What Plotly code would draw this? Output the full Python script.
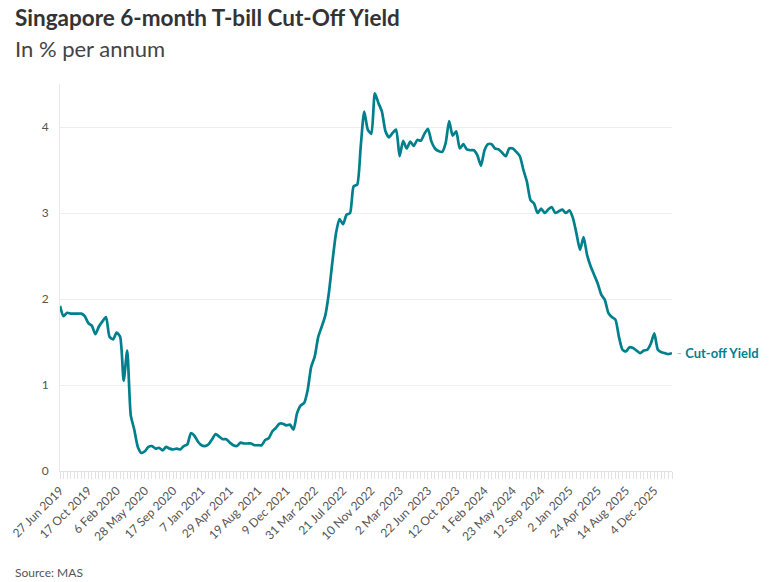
import pandas as pd
import plotly.graph_objects as go

# Biweekly 6-month T-bill auction dates (Thursdays)
first_auction = "2019-06-27"
n_auctions = 174
auction_dates = pd.date_range(first_auction, periods=n_auctions, freq="14D")

# Cut-off yield, % per annum
yield_2019_20 = [1.92, 1.80, 1.84, 1.83, 1.83, 1.83, 1.83, 1.80, 1.72, 1.69,
                 1.59, 1.68, 1.74, 1.79, 1.56, 1.53, 1.61, 1.56, 1.05, 1.40,
                 0.65, 0.48, 0.28, 0.21, 0.23, 0.28, 0.29, 0.26, 0.27, 0.24,
                 0.28, 0.26, 0.25, 0.26, 0.25, 0.29, 0.31, 0.44, 0.41, 0.34]
yield_2021_22 = [0.30, 0.29, 0.31, 0.37, 0.43, 0.40, 0.37, 0.37, 0.33, 0.30,
                 0.29, 0.33, 0.32, 0.32, 0.32, 0.30, 0.30, 0.30, 0.36, 0.38,
                 0.46, 0.50, 0.55, 0.55, 0.53, 0.54, 0.48, 0.67, 0.76, 0.79,
                 0.94, 1.21, 1.33, 1.56, 1.68, 1.81, 2.07, 2.43, 2.76, 2.93,
                 2.87, 2.98, 3.00, 3.31, 3.33, 3.77, 4.18, 3.97, 3.92, 4.39]
yield_2023_24 = [4.28, 4.18, 3.95, 3.88, 3.93, 3.97, 3.66, 3.84, 3.75, 3.83,
                 3.78, 3.85, 3.84, 3.92, 3.98, 3.83, 3.75, 3.72, 3.71, 3.81,
                 4.07, 3.90, 3.95, 3.75, 3.80, 3.74, 3.73, 3.73, 3.67, 3.55,
                 3.73, 3.80, 3.80, 3.75, 3.74, 3.70, 3.66, 3.75, 3.75, 3.71,
                 3.66, 3.50, 3.36, 3.15, 3.11, 3.00, 3.05, 3.00, 3.04, 3.07]
yield_2025_26 = [3.00, 3.02, 3.04, 3.00, 3.03, 2.94, 2.76, 2.57, 2.72, 2.51,
                 2.38, 2.28, 2.18, 2.05, 1.99, 1.84, 1.79, 1.76, 1.56, 1.41,
                 1.39, 1.44, 1.43, 1.40, 1.37, 1.40, 1.41, 1.48, 1.60, 1.41,
                 1.38, 1.37, 1.36, 1.37]
cutoff_yield = yield_2019_20 + yield_2021_22 + yield_2023_24 + yield_2025_26

x_tick_labels = ["27 Jun 2019", "17 Oct 2019", "6 Feb 2020", "28 May 2020",
                 "17 Sep 2020", "7 Jan 2021", "29 Apr 2021", "19 Aug 2021",
                 "9 Dec 2021", "31 Mar 2022", "21 Jul 2022", "10 Nov 2022",
                 "2 Mar 2023", "22 Jun 2023", "12 Oct 2023", "1 Feb 2024",
                 "23 May 2024", "12 Sep 2024", "2 Jan 2025", "24 Apr 2025",
                 "14 Aug 2025", "4 Dec 2025"]
x_tick_dates = [pd.to_datetime(s, format="%d %b %Y") for s in x_tick_labels]
y_ticks = [0, 1, 2, 3, 4]
series_name = "Cut-off Yield"

TEAL = "#007F8C"
FONT = "Lato"

# The page body adds an 8px offset; figure is sized so it fills the window.
OFF = 8
W, H = 772 - OFF, 582 - OFF
L, R, T, B = 60 - OFF, 100, 84 - OFF, 111
plot_h = H - T - B
plot_w = W - L - R


def py(screen_pix):
    return (H - B - (screen_pix - OFF)) / plot_h


def px(screen_pix):
    return ((screen_pix - OFF) - L) / plot_w


fig = go.Figure()
fig.add_trace(go.Scatter(
    x=auction_dates, y=cutoff_yield, mode="lines", name=series_name,
    line=dict(color=TEAL, width=2.7, shape="spline", smoothing=0.6),
    hoverinfo="x+y",
))

fig.add_annotation(
    x=1, xref="paper", y=cutoff_yield[-1], yref="y",
    xanchor="left", yanchor="middle", xshift=3, showarrow=False,
    text="<span style='color:#bbbbbb'>-</span> <b>" + series_name + "</b>",
    font=dict(family=FONT, size=13, color=TEAL),
)

fig.add_annotation(
    text="<b>Singapore 6-month T-bill Cut-Off Yield</b>",
    xref="paper", yref="paper", x=px(13), y=py(18),
    xanchor="left", yanchor="middle", showarrow=False,
    font=dict(family=FONT, size=22.5, color="#333333"),
)
fig.add_annotation(
    text="In % per annum",
    xref="paper", yref="paper", x=px(13), y=py(48),
    xanchor="left", yanchor="middle", showarrow=False,
    font=dict(family=FONT, size=22, color="#444444"),
)
fig.add_annotation(
    text="Source: MAS", xref="paper", yref="paper", x=px(13), y=py(572),
    xanchor="left", yanchor="middle", showarrow=False,
    font=dict(family=FONT, size=12, color="#555555"),
)

fig.update_layout(
    width=W, height=H,
    margin=dict(l=L, r=R, t=T, b=B, autoexpand=False),
    paper_bgcolor="white", plot_bgcolor="white",
    showlegend=False,
    font=dict(family=FONT, size=12, color="#555555"),
)

fig.update_xaxes(
    type="date", automargin=False,
    range=[auction_dates[0], auction_dates[-1]],
    tickmode="array", tickvals=x_tick_dates, ticktext=x_tick_labels,
    tickangle=-45,
    ticks="outside", ticklen=7, tickcolor="#e2e2e2", tickwidth=1,
    minor=dict(tickmode="array", tickvals=list(auction_dates), ticks="outside",
               ticklen=7, tickcolor="#e2e2e2", tickwidth=1, showgrid=False),
    showgrid=False, showline=True, linecolor="#e2e2e2", linewidth=1,
    tickfont=dict(family=FONT, size=12, color="#555555"),
)
fig.update_yaxes(
    range=[0, 4.5], tickvals=y_ticks, automargin=False,
    showgrid=True, gridcolor="#eeeeee", gridwidth=1,
    showline=True, linecolor="#e8e8e8", zeroline=False,
    ticks="", ticklabelstandoff=8,
    tickfont=dict(family=FONT, size=12, color="#555555"),
)

fig.write_html("out.html")
